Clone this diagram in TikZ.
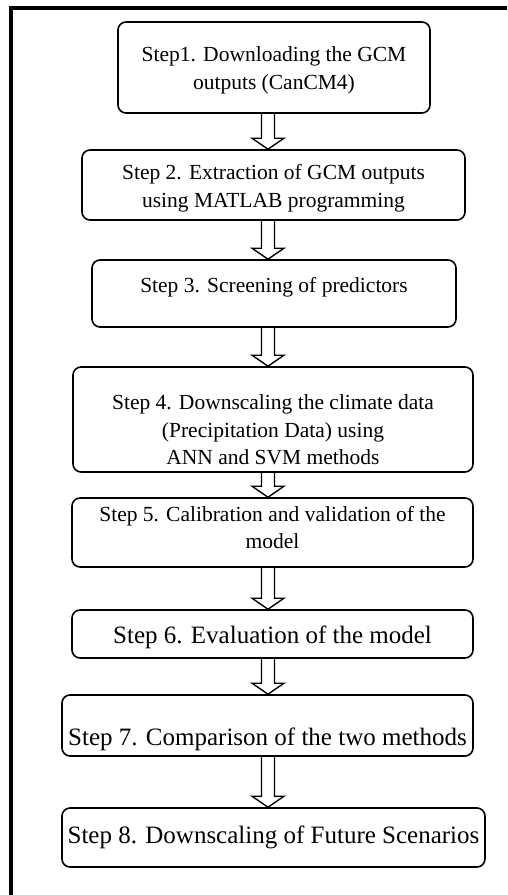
\documentclass[tikz,border=0pt]{standalone}
\usepackage{fontspec}
\setmainfont{Liberation Serif}
\usetikzlibrary{calc}

% invisible struts that move a label up or down inside its box
\newcommand{\txtup}[1]{\rule[-#1]{0pt}{#1}}
\newcommand{\txtdown}[1]{\rule{0pt}{#1}}

\begin{document}
\begin{tikzpicture}[
    x=1pt, y=1pt,
    stepbox/.style={draw, line width=1.6pt, rounded corners=8pt, align=center,
        inner sep=3pt, font=\fontsize{21.5}{27.5}\selectfont},
    bigtext/.style={font=\fontsize{25}{30}\selectfont},
    blockarrow/.style={draw, line width=1.4pt, to path={
        ($(\tikztostart.south -| ax)+(-6.5,0)$) -- ($(\tikztotarget.north -| ax)+(-6.5,11)$)
        -- ++(-9.5,0) -- (\tikztotarget.north -| ax) -- ++(16,11) -- ++(-9.5,0)
        -- ($(\tikztostart.south -| ax)+(6.5,0)$)}},
]
\useasboundingbox (0,0) rectangle (507,-895);
% Frame
\draw[line width=4pt] (10.5,-895) -- (10.5,-8) -- (507,-8);
\coordinate (ax) at (268,0);
% Nodes
\node[stepbox, minimum width=312pt, minimum height=91pt] (s1) at (274,-67.5)
    {\txtdown{21pt}Step1. Downloading the GCM\\ outputs (CanCM4)};
\node[stepbox, minimum width=383pt, minimum height=70pt] (s2) at (273.5,-185)
    {\txtdown{22pt}Step 2. Extraction of GCM outputs\\ using MATLAB programming};
\node[stepbox, minimum width=364pt, minimum height=67pt] (s3) at (274,-293.5)
    {Step 3. Screening of predictors\txtup{18pt}};
\node[stepbox, minimum width=400pt, minimum height=105pt] (s4) at (273,-419.5)
    {\txtdown{36pt}Step 4. Downscaling the climate data\\ (Precipitation Data) using\\ ANN and SVM methods};
\node[stepbox, minimum width=401pt, minimum height=69pt] (s5) at (272.5,-532.5)
    {Step 5. Calibration and validation of the\\ model\txtup{10pt}};
\node[stepbox, bigtext, minimum width=401pt, minimum height=48pt] (s6) at (272.5,-634)
    {\txtdown{25pt}Step 6. Evaluation of the model};
\node[stepbox, bigtext, minimum width=411pt, minimum height=61pt] (s7) at (267.5,-725.5)
    {\txtdown{45pt}Step 7. Comparison of the two methods};
\node[stepbox, bigtext, minimum width=423pt, minimum height=59pt] (s8) at (273.5,-837.5)
    {Step 8. Downscaling of Future Scenarios};
% Arrows
\foreach \a/\b in {s1/s2, s2/s3, s3/s4, s4/s5, s5/s6, s6/s7, s7/s8}
    \draw[blockarrow] (\a) to (\b);
\end{tikzpicture}
\end{document}
